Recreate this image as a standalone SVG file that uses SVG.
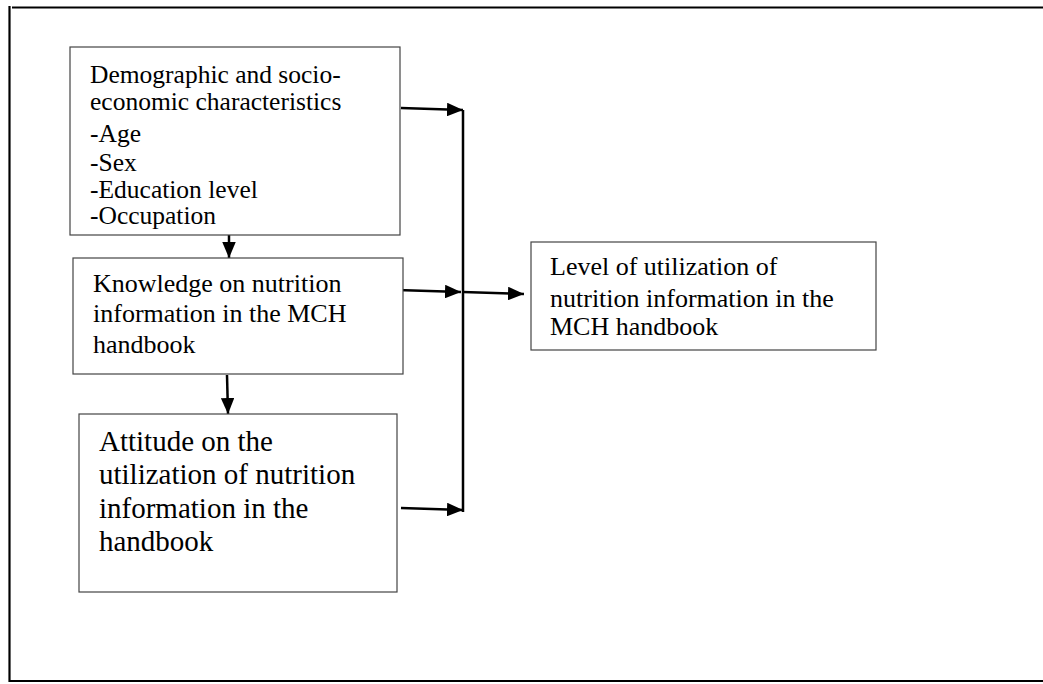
<svg xmlns="http://www.w3.org/2000/svg" width="1043" height="684" viewBox="0 0 1043 684">
<style>
.box{fill:#fff;stroke:#444;stroke-width:1.2}
.frame{stroke:#000;stroke-width:2.2;fill:none}
.t{font-family:"Liberation Serif","Times New Roman",serif;fill:#000}
.c{stroke:#000;stroke-width:2.5;fill:none}
</style>
<defs>
<marker id="ah" viewBox="0 0 10 10" refX="10" refY="5" markerWidth="6.4" markerHeight="5.4" markerUnits="strokeWidth" orient="auto" preserveAspectRatio="none">
<path d="M0,0 L10,5 L0,10 Z" fill="#000"/>
</marker>
</defs>
<g id="frame">
<line class="frame" x1="12" y1="7.5" x2="1043" y2="7.5"/>
<line class="frame" x1="9.5" y1="6" x2="9.5" y2="682"/>
<line class="frame" x1="10" y1="681" x2="1043" y2="681"/>
</g>
<g id="connectors">
<line class="c" x1="401" y1="108" x2="463" y2="110" marker-end="url(#ah)"/>
<line class="c" x1="463" y1="110" x2="463" y2="512"/>
<line class="c" x1="229" y1="235" x2="229" y2="258" marker-end="url(#ah)"/>
<line class="c" x1="397" y1="290" x2="461" y2="292" marker-end="url(#ah)"/>
<line class="c" x1="463" y1="292" x2="524" y2="294" marker-end="url(#ah)"/>
<line class="c" x1="227" y1="375" x2="228" y2="414" marker-end="url(#ah)"/>
<line class="c" x1="401" y1="508" x2="463" y2="510" marker-end="url(#ah)"/>
</g>
<g id="demographics">
<rect class="box" x="70" y="47" width="330" height="188"/>
<text class="t" font-size="25.5"><tspan x="90" y="83">Demographic and socio-</tspan><tspan x="90" y="110">economic characteristics</tspan><tspan x="90" y="142">-Age</tspan><tspan x="90" y="171">-Sex</tspan><tspan x="90" y="198">-Education level</tspan><tspan x="90" y="224">-Occupation</tspan></text>
</g>
<g id="knowledge">
<rect class="box" x="73" y="258" width="330" height="116"/>
<text class="t" font-size="26"><tspan x="93" y="292">Knowledge on nutrition</tspan><tspan x="93" y="322">information in the MCH</tspan><tspan x="93" y="353">handbook</tspan></text>
</g>
<g id="attitude">
<rect class="box" x="79" y="414" width="318" height="178"/>
<text class="t" font-size="29"><tspan x="99" y="451">Attitude on the</tspan><tspan x="99" y="484">utilization of nutrition</tspan><tspan x="99" y="518">information in the</tspan><tspan x="99" y="551">handbook</tspan></text>
</g>
<g id="utilization">
<rect class="box" x="531" y="242" width="345" height="108"/>
<text class="t" font-size="26"><tspan x="550" y="275">Level of utilization of</tspan><tspan x="550" y="307">nutrition information in the</tspan><tspan x="550" y="335">MCH handbook</tspan></text>
</g>
</svg>
